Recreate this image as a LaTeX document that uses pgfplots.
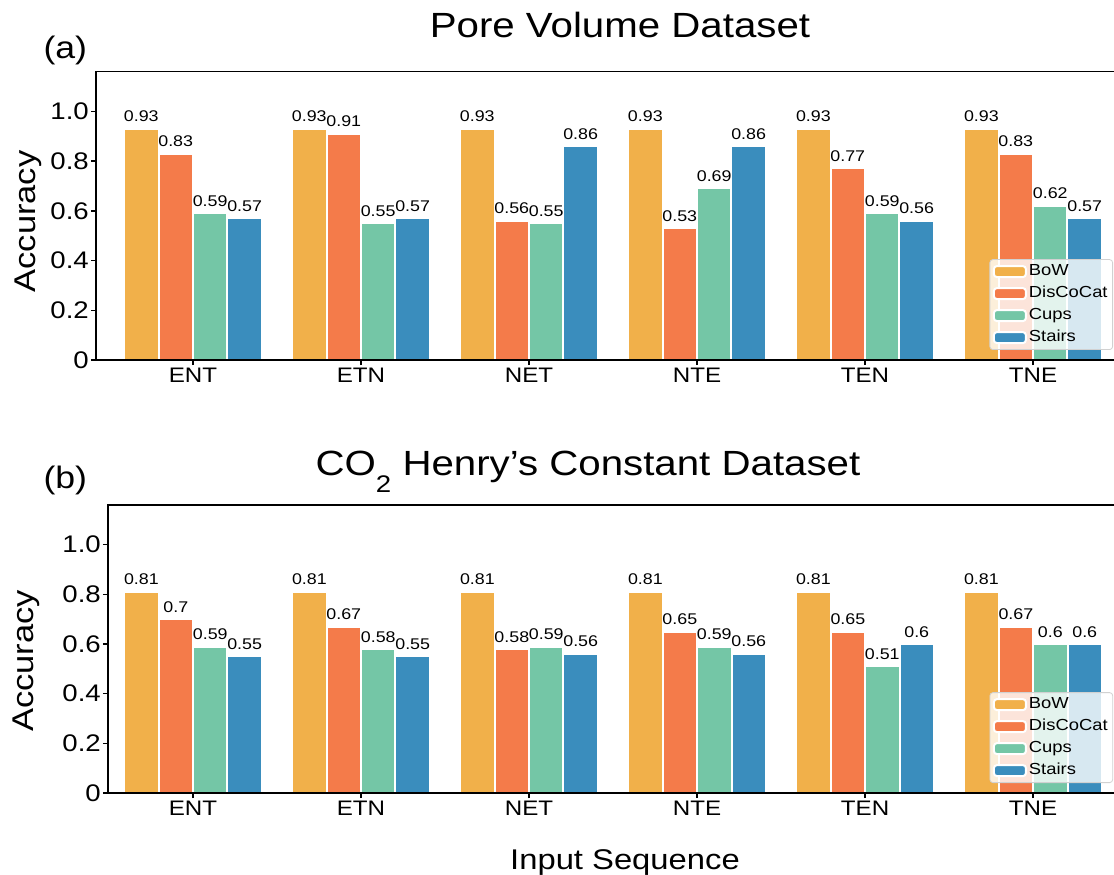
\documentclass[border=0pt]{standalone}
\usepackage{fontspec}
\setmainfont[FakeStretch=1.15]{Liberation Sans}
\usepackage{pgfplots}
\pgfplotsset{compat=1.18}
\usepackage{pgfplotstable}

\definecolor{cBoW}{RGB}{241,176,74}
\definecolor{cDis}{RGB}{244,123,74}
\definecolor{cCups}{RGB}{116,198,166}
\definecolor{cStairs}{RGB}{58,141,189}

\newcommand\fs[1]{\fontsize{#1}{#1}\selectfont}

% Pore volume accuracies (x: 0=ENT ... 5=TNE)
\pgfplotstableread{
x bow  dis  cups stairs
0 0.93 0.83 0.59 0.57
1 0.93 0.91 0.55 0.57
2 0.93 0.56 0.55 0.86
3 0.93 0.53 0.69 0.86
4 0.93 0.77 0.59 0.56
5 0.93 0.83 0.62 0.57
}\porevol

% CO2 Henry's constant accuracies
\pgfplotstableread{
x bow  dis  cups stairs
0 0.81 0.7  0.59 0.55
1 0.81 0.67 0.58 0.55
2 0.81 0.58 0.59 0.56
3 0.81 0.65 0.59 0.56
4 0.81 0.65 0.51 0.6
5 0.81 0.67 0.6  0.6
}\henry

\pgfplotsset{
  mybar/.style={fill=#1, draw=white, line width=2pt,
    legend image code/.code={\fill[fill=#1, fill opacity=1] (0pt,-5.5pt) rectangle (32pt,5.5pt);}},
  accbars/.style={
    scale only axis, axis on top, clip=false,
    ybar=0pt, bar width=0.205,
    ymin=0, ymax=1.16,
    xtick={0,1,2,3,4,5}, xticklabels={ENT,ETN,NET,NTE,TEN,TNE},
    ytick={0,0.2,0.4,0.6,0.8,1.0}, yticklabels={0,0.2,0.4,0.6,0.8,1.0},
    tick align=outside, xtick pos=bottom, ytick pos=left,
    major tick length=5pt,
    axis line style={line width=1.8pt},
    tick style={line width=1.5pt, black},
    x tick label style={font=\fs{21}, inner sep=3pt},
    y tick label style={font=\fs{24}, inner sep=2pt},
    nodes near coords={\pgfmathprintnumber[assume math mode=true]{\pgfplotspointmeta}},
    every node near coord/.append style={font=\fs{15.5}, anchor=base, inner sep=0pt, yshift=7pt, text=black},
    legend cell align=left,
    legend style={anchor=south east, font=\fs{16},
      draw=black!18, line width=0.8pt, fill=white, fill opacity=0.8, text opacity=1,
      rounded corners=3pt, inner xsep=3pt, inner ysep=2pt, row sep=2pt,
      nodes={inner ysep=2pt, text height=12pt, text depth=4pt},
      /tikz/every even column/.append style={column sep=3pt}},
  }
}

\begin{document}
\begin{tikzpicture}[x=1pt,y=1pt]
\useasboundingbox (0,0) rectangle (1114,-875);

% (a) pore volume
\begin{axis}[accbars, at={(96pt,-360pt)}, anchor=south west,
    width=1034pt, height=288.5pt, xmin=-0.577, xmax=5.577,
    legend style={at={(0.9836,0.0347)}}]
  \addplot[mybar=cBoW]    table[x=x, y=bow]    {\porevol};
  \addplot[mybar=cDis]    table[x=x, y=dis]    {\porevol};
  \addplot[mybar=cCups]   table[x=x, y=cups]   {\porevol};
  \addplot[mybar=cStairs] table[x=x, y=stairs] {\porevol};
  \legend{BoW,DisCoCat,Cups,Stairs}
\end{axis}

% (b) CO2 Henry's constant
\begin{axis}[accbars, at={(108pt,-793pt)}, anchor=south west,
    width=1022pt, height=288pt, xmin=-0.506, xmax=5.577,
    legend style={at={(0.9834,0.0347)}}]
  \addplot[mybar=cBoW]    table[x=x, y=bow]    {\henry};
  \addplot[mybar=cDis]    table[x=x, y=dis]    {\henry};
  \addplot[mybar=cCups]   table[x=x, y=cups]   {\henry};
  \addplot[mybar=cStairs] table[x=x, y=stairs] {\henry};
  \legend{BoW,DisCoCat,Cups,Stairs}
\end{axis}

% titles, panel tags and shared labels
\node[anchor=base, font=\fs{35}] at (620,-38) {Pore Volume Dataset};
\node[anchor=base west, font=\fs{31}] at (40,-58.5) {(a)};
\node[anchor=base, font=\fs{35}] at (588,-475)
  {CO\raisebox{-17pt}{\fs{24}2} Henry’s Constant Dataset};
\node[anchor=base west, font=\fs{31}] at (40,-488.5) {(b)};
\node[rotate=90, anchor=base, font=\fs{30}] at (35,-221.5) {Accuracy};
\node[rotate=90, anchor=base, font=\fs{30}] at (34,-661) {Accuracy};
\node[anchor=base, font=\fs{28.5}] at (625,-869) {Input Sequence};
\end{tikzpicture}
\end{document}
